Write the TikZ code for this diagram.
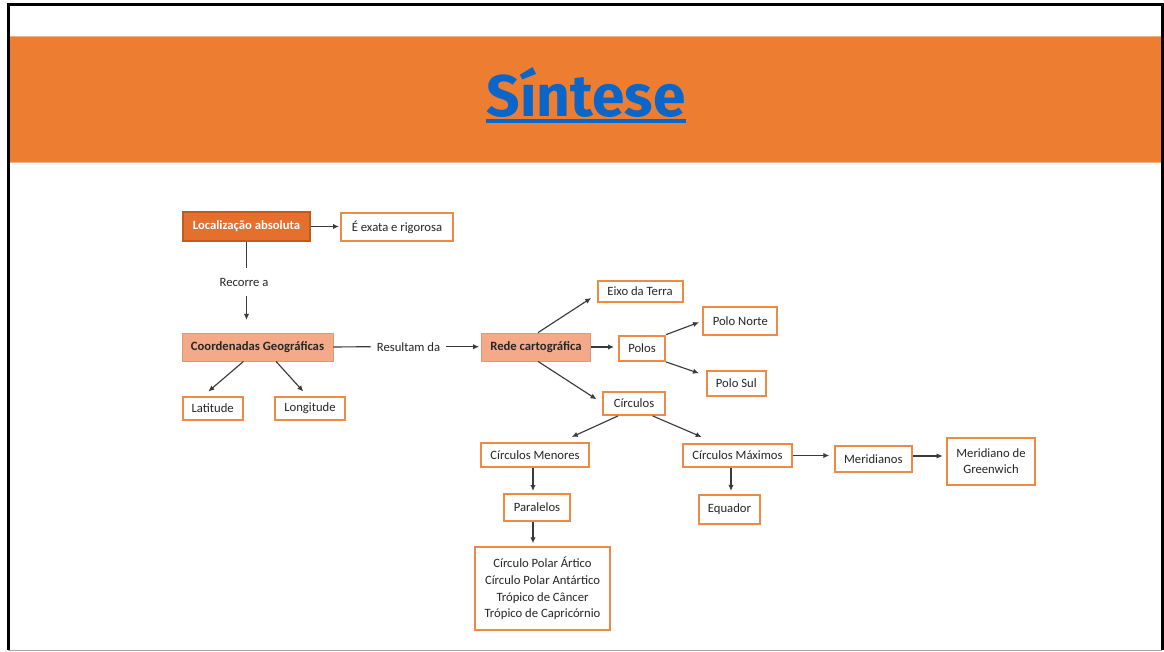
\documentclass[tikz,border=0pt]{standalone}
\usepackage{fontspec}
\setmainfont{Carlito}
\newfontfamily\titlefont{Fira Sans}
\usetikzlibrary{arrows.meta,calc}
\definecolor{band}{HTML}{ED7D31}
\definecolor{obord}{HTML}{EE8A44}
\definecolor{locfill}{HTML}{E5702E}
\definecolor{locdraw}{HTML}{C25A1C}
\definecolor{lightfill}{HTML}{F4AA88}
\definecolor{txt}{HTML}{262626}
\definecolor{lnc}{HTML}{3A3A3A}
\definecolor{ttl}{HTML}{0A66C8}
\tikzset{
  box/.style={draw=obord, line width=1.5pt, fill=white, inner sep=0pt, text=txt,
    font=\fontsize{9.5}{12}\selectfont, align=center},
  darkbox/.style={box, draw=locdraw, fill=locfill, text=white, font=\fontsize{9.5}{12}\selectfont\bfseries},
  lightbox/.style={box, draw=lightfill!90!black, line width=0.6pt, fill=lightfill, text=txt, font=\fontsize{9.5}{12}\selectfont\bfseries},
  lbl/.style={inner xsep=4.5pt, inner ysep=0pt, text=txt, font=\fontsize{9.5}{12}\selectfont},
  conn/.style={draw=lnc, line width=0.85pt},
  arr/.style={conn, -{Latex[length=4.5pt,width=4pt]}},
}
\begin{document}
\begin{tikzpicture}[x=0.75pt,y=-0.75pt]
\useasboundingbox (0,0) rectangle (1164,652);
\fill[white] (0,0) rectangle (1164,652);
% band
\fill[band] (9,37) rectangle (1162,163);
\draw[band!60!white, line width=0.75pt] (9,37) -- (1162,37) (9,163) -- (1162,163);
% frame
\draw[black, line width=2.25pt] (8.5,650) -- (8.5,4.8) -- (1162,4.8) -- (1162,650);
\draw[black!35, line width=1pt] (8,650.5) -- (1162,650.5);
% title
\node[anchor=base, text=ttl, font=\titlefont\fontsize{44}{44}\selectfont\bfseries, inner sep=0pt] (title) at (586,117) {Síntese};
\draw[ttl, line width=2.4pt] (486,121) -- (686,121);

% nodes
\node[darkbox, minimum width=127*0.75pt, minimum height=29*0.75pt] (loc) at (246.5,226.5) {Localização absoluta};
\node[box, minimum width=112*0.75pt, minimum height=28*0.75pt] (exata) at (397,227) {É exata e rigorosa};
\node[lbl, inner ysep=7pt] (recorre) at (244,282) {Recorre a};
\node[lightbox, minimum width=151*0.75pt, minimum height=28*0.75pt] (coord) at (257.5,347) {Coordenadas Geográficas};
\node[lbl] (res) at (408.5,346.7) {Resultam da};
\node[lightbox, minimum width=109*0.75pt, minimum height=28*0.75pt] (rede) at (536,347) {Rede cartográfica};
\node[box, minimum width=60*0.75pt, minimum height=23.5*0.75pt] (lat) at (212.7,408.3) {Latitude};
\node[box, minimum width=70*0.75pt, minimum height=23.5*0.75pt] (lon) at (310,408.3) {Longitude};
\node[box, minimum width=85*0.75pt, minimum height=21.6*0.75pt] (eixo) at (640,291.5) {Eixo da Terra};
\node[box, minimum width=46*0.75pt, minimum height=25.3*0.75pt] (polos) at (642,348.3) {Polos};
\node[box, minimum width=74*0.75pt, minimum height=28.3*0.75pt] (norte) at (740.3,320.8) {Polo Norte};
\node[box, minimum width=59.3*0.75pt, minimum height=25.3*0.75pt] (sul) at (736.3,383.3) {Polo Sul};
\node[box, minimum width=62*0.75pt, minimum height=23.3*0.75pt] (circ) at (634,403.3) {Círculos};
\node[box, minimum width=108*0.75pt, minimum height=24*0.75pt] (menores) at (535,455) {Círculos Menores};
\node[box, minimum width=109*0.75pt, minimum height=23*0.75pt] (maximos) at (737.5,455.5) {Círculos Máximos};
\node[box, minimum width=76.7*0.75pt, minimum height=25.7*0.75pt] (meridianos) at (873.3,459) {Meridianos};
\node[box, minimum width=88*0.75pt, minimum height=47*0.75pt] (green) at (991,461.5) {Meridiano de\\Greenwich};
\node[box, minimum width=66*0.75pt, minimum height=27*0.75pt] (paral) at (537,507.5) {Paralelos};
\node[box, minimum width=61*0.75pt, minimum height=29*0.75pt] (equador) at (729.5,509.5) {Equador};
\node[box, minimum width=135*0.75pt, minimum height=83*0.75pt, font=\fontsize{9.5}{12.5}\selectfont] (lista) at (542.5,588.5) {Círculo Polar Ártico\\Círculo Polar Antártico\\Trópico de Câncer\\Trópico de Capricórnio};

% connectors
\draw[arr, shorten >=0.75pt] (loc.east) -- (loc.east -| exata.west);
\draw[conn] (loc.south) -- (loc.south |- recorre.north);
\draw[arr, shorten >=9.5pt] (loc.south |- recorre.south) -- (loc.south |- coord.north);
\draw[conn] (coord.east) -- (res.west);
\draw[arr, shorten >=1.5pt] (res.east) -- (res.east -| rede.west);
\draw[arr] ($(coord.south)+(-14,0)$) -- ($(lat.north)+(-4.4,-4)$);
\draw[arr] ($(coord.south)+(18.5,0)$) -- ($(lon.north)+(-6.7,-4)$);
\draw[arr] ($(rede.north)+(2,0)$) -- ($(eixo.south west)+(-5.3,-5.3)$);
\draw[arr, shorten >=3pt] (rede.east) -- (rede.east -| polos.west);
\draw[arr] (polos.north east) -- ($(norte.west)+(-3.3,1.5)$);
\draw[arr] (polos.south east) -- ($(sul.north west)+(-6.7,3.6)$);
\draw[arr] ($(rede.south)+(2,0)$) -- ($(circ.west)+(-5.5,-4)$);
\draw[arr] ($(circ.south)+(-16,0)$) -- ($(menores.north)+(36.7,-5)$);
\draw[arr] ($(circ.south)+(18.7,0)$) -- ($(maximos.north)+(-35.8,-6)$);
\draw[arr, shorten >=1.5pt] ($(menores.south)+(-2,0)$) -- ($(menores.south |- paral.north)+(-2,0)$);
\draw[arr, shorten >=2.3pt] ($(equador.north |- maximos.south)+(1.5,0)$) -- ($(equador.north)+(1.5,0)$);
\draw[arr, shorten >=3.5pt] (maximos.east) -- (maximos.east -| meridianos.west);
\draw[arr, shorten >=2.5pt] ($(meridianos.east)+(0,-3)$) -- ($(meridianos.east -| green.west)+(0,-3)$);
\draw[arr, shorten >=2pt] ($(paral.south)+(-4,0)$) -- ($(paral.south |- lista.north)+(-4,0)$);
\end{tikzpicture}
\end{document}
